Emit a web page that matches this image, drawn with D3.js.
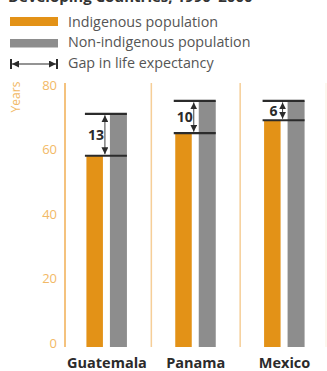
<!DOCTYPE html>
<html>
<head>
<meta charset="utf-8">
<script src="https://cdn.jsdelivr.net/npm/d3@7"></script>
<style>
  html, body { margin: 0; padding: 0; background: #fff; }
  svg { display: block; }
  text { font-family: "Open Sans", "Noto Sans", sans-serif; }
</style>
</head>
<body>
<svg id="chart" width="327" height="371"></svg>
<script>
// Life expectancy (years), indigenous vs non-indigenous populations
const countries = ["Guatemala", "Panama", "Mexico"];
const indigenous = [59, 66, 70];
const nonIndigenous = [72, 76, 76];
const yTicks = [0, 20, 40, 60, 80];
const legendLabels = ["Indigenous population", "Non-indigenous population", "Gap in life expectancy"];
const title = "Developing Countries, 1990\u20132000";

const ORANGE = "#e39217";
const GREY = "#8d8d8d";
const AXIS = "#f4c27e";
const TICK = "#f2b966";
const INK = "#2b2b2b";

const svg = d3.select("#chart");

const x = d3.scaleBand().domain(countries).range([62.5, 329]);
const y = d3.scaleLinear().domain([0, 80]).range([346, 88]);

// Heading, running off the top edge
svg.append("text")
  .attr("x", 8).attr("y", 2)
  .attr("font-size", 15).attr("font-weight", 700)
  .attr("fill", "#333")
  .text(title);

// Arrowhead markers for the gap indicators
const defs = svg.append("defs");
defs.append("marker")
  .attr("id", "arr").attr("viewBox", "0 0 10 10")
  .attr("refX", 10).attr("refY", 5)
  .attr("markerWidth", 7).attr("markerHeight", 7)
  .attr("markerUnits", "userSpaceOnUse")
  .attr("orient", "auto-start-reverse")
  .append("path").attr("d", "M0,0L10,5L0,10Z").attr("fill", INK);

// Legend
const legend = svg.append("g");
legend.append("rect").attr("x", 10).attr("y", 17).attr("width", 48).attr("height", 9).attr("fill", ORANGE);
legend.append("rect").attr("x", 10).attr("y", 39).attr("width", 48).attr("height", 8.5).attr("fill", GREY);
legend.append("line").attr("x1", 12).attr("x2", 56).attr("y1", 64).attr("y2", 64)
  .attr("stroke", INK).attr("stroke-width", 1.2)
  .attr("marker-start", "url(#arr)").attr("marker-end", "url(#arr)");
[11, 57].forEach(cx => legend.append("line")
  .attr("x1", cx).attr("x2", cx).attr("y1", 59).attr("y2", 69)
  .attr("stroke", INK).attr("stroke-width", 2));
legendLabels.forEach((t, i) => legend.append("text")
  .attr("x", 68).attr("y", 26.5 + i * 20.5)
  .attr("font-size", 14.3).attr("fill", "#555")
  .text(t));

// Y axis: spine, tick labels, title
const yAxis = svg.append("g").attr("transform", "translate(65,0)")
  .call(d3.axisLeft(y).tickValues(yTicks).tickSize(0).tickPadding(8));
yAxis.select(".domain").remove();
yAxis.selectAll("text")
  .attr("fill", TICK).attr("font-size", 13)
  .attr("font-family", "'Open Sans', sans-serif")
  .attr("dy", "0.1em");
svg.append("line").attr("x1", 65).attr("x2", 65).attr("y1", 83).attr("y2", 347)
  .attr("stroke", AXIS).attr("stroke-width", 2);
svg.append("text")
  .attr("transform", "translate(20,97) rotate(-90)")
  .attr("text-anchor", "middle")
  .attr("font-size", 12).attr("fill", TICK)
  .text("Years");

// Separators between countries
countries.slice(1).forEach(c => svg.append("line")
  .attr("x1", x(c)).attr("x2", x(c)).attr("y1", 83).attr("y2", 347)
  .attr("stroke", AXIS).attr("stroke-width", 1.5).attr("opacity", 0.8));
svg.append("line").attr("x1", 326).attr("x2", 326).attr("y1", 83).attr("y2", 347)
  .attr("stroke", AXIS).attr("stroke-width", 1).attr("opacity", 0.25);

// Bars
const center = c => x(c) + x.bandwidth() / 2;
const rows = countries.map((c, i) => ({ c, ind: indigenous[i], non: nonIndigenous[i] }));
const g = svg.append("g");
g.selectAll("rect.ind").data(rows).join("rect")
  .attr("x", d => center(d.c) - 20.5).attr("width", 16.5)
  .attr("y", d => y(d.ind)).attr("height", d => y(0) - y(d.ind) + 1)
  .attr("fill", ORANGE);
g.selectAll("rect.non").data(rows).join("rect")
  .attr("x", d => center(d.c) + 3).attr("width", 17)
  .attr("y", d => y(d.non)).attr("height", d => y(0) - y(d.non) + 1)
  .attr("fill", GREY);

// Gap indicators: caps at both life expectancies, double arrow and gap value
rows.forEach(d => {
  const cx = center(d.c);
  [d.non, d.ind].forEach(v => g.append("line")
    .attr("x1", cx - 22).attr("x2", cx + 20)
    .attr("y1", y(v)).attr("y2", y(v))
    .attr("stroke", INK).attr("stroke-width", 2.2));
  g.append("line")
    .attr("x1", cx - 2).attr("x2", cx - 2)
    .attr("y1", y(d.non) + 1.5).attr("y2", y(d.ind) - 1.5)
    .attr("stroke", INK).attr("stroke-width", 0.9)
    .attr("marker-start", "url(#arr)").attr("marker-end", "url(#arr)");
  g.append("text")
    .attr("x", cx - 11).attr("y", (y(d.non) + y(d.ind)) / 2)
    .attr("dy", "0.36em").attr("text-anchor", "middle")
    .attr("font-size", 14).attr("font-weight", 700).attr("fill", INK)
    .text(d.non - d.ind);
});

// Country labels
svg.append("g").selectAll("text").data(countries).join("text")
  .attr("x", d => center(d)).attr("y", 368)
  .attr("text-anchor", "middle")
  .attr("font-size", 14.5).attr("font-weight", 700).attr("fill", INK)
  .text(d => d);
</script>
</body>
</html>
